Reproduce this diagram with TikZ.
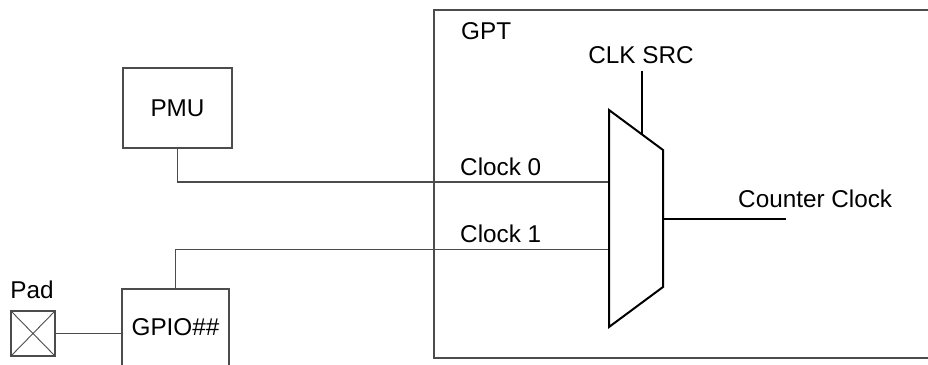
\documentclass[tikz,border=0pt]{standalone}
\usepackage{fontspec}
\setmainfont{Liberation Sans}
\begin{document}
\begin{tikzpicture}[x=1pt,y=-1pt,
  box/.style={draw=black!70,line width=1.3pt,rectangle,inner sep=0pt,font=\fontsize{24.3}{29}\selectfont},
  wire/.style={draw=black!70,line width=1.3pt},
  lbl/.style={inner sep=0pt,font=\fontsize{24.3}{29}\selectfont},
  muxline/.style={draw=black,line width=2pt,line join=miter}]
\useasboundingbox (0,0) rectangle (928,364);
\clip (0,0) rectangle (928,364);
% GPT block
\node[box,minimum width=506pt,minimum height=348pt] (gpt) at (687,184) {};
\node[lbl,anchor=base west] (gptlbl) at (461,39) {GPT};
% PMU
\node[box,minimum width=109pt,minimum height=80pt] (pmu) at (177.5,108) {PMU};
% GPIO
\node[box,minimum width=107pt,minimum height=77pt] (gpio) at (175.5,327.5) {GPIO\#\#};
% Pad
\node[box,minimum width=44pt,minimum height=45pt] (pad) at (33,333.5) {};
\draw[draw=black!70,line width=0.9pt] (pad.north west) -- (pad.south east) (pad.north east) -- (pad.south west);
\node[lbl,anchor=base] (padlbl) at (32,298) {Pad};
% Mux
\coordinate (m1) at (609,110);
\coordinate (m2) at (663,150);
\coordinate (m3) at (663,287);
\coordinate (m4) at (609,327);
\coordinate (in0) at (609,182);
\coordinate (in1) at (609,249.5);
\coordinate (out) at (663,219);
\coordinate (outend) at (786,219);
\coordinate (sel) at (642,134.4);
\node[lbl,anchor=base] (clksrc) at (641,63) {CLK SRC};
\node[lbl,anchor=base west] (c0) at (460,175) {Clock 0};
\node[lbl,anchor=base west] (c1) at (460,242) {Clock 1};
\node[lbl,anchor=base west] (cc) at (738,207) {Counter Clock};
% connectors
\draw[wire] (pmu.south) |- (in0);
\draw[wire] (gpio.north) |- (in1);
\draw[wire] (pad.east) -- (pad.east -| gpio.west);
\draw[draw=black,line width=1.3pt] (out) -- (outend);
\draw[draw=black,line width=1.3pt] (642,71) -- (sel);
\draw[muxline] (m1) -- (m2) -- (m3) -- (m4) -- cycle;
\end{tikzpicture}
\end{document}
